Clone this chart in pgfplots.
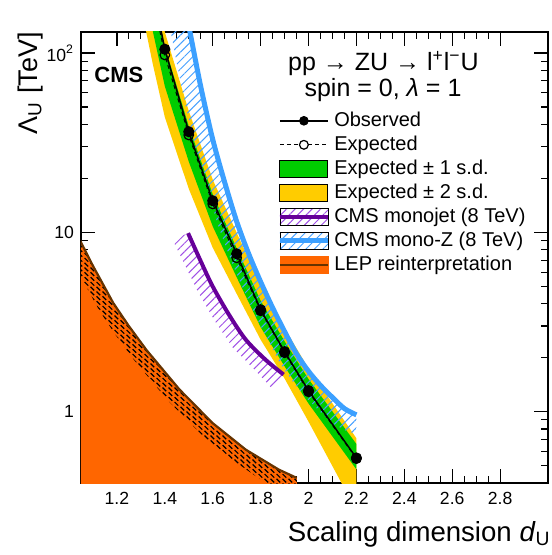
\documentclass[border=0pt]{standalone}
\usepackage{fontspec}
\setmainfont{Liberation Sans}
\usepackage{pgfplots}
\pgfplotsset{compat=1.18}
\usetikzlibrary{patterns,patterns.meta}
\definecolor{cmsgreen}{RGB}{0,204,0}
\definecolor{cmsyellow}{RGB}{255,204,0}
\definecolor{monoz}{RGB}{60,160,255}
\definecolor{monozhatch}{RGB}{70,160,255}
\definecolor{monojet}{RGB}{102,0,153}
\definecolor{monojethatch}{RGB}{160,80,230}
\definecolor{lep}{RGB}{255,102,0}
\definecolor{lepedge}{RGB}{102,51,0}
\pgfdeclarepatternformonly{lepdash}{\pgfqpoint{-0.1pt}{-0.1pt}}{\pgfqpoint{3.1pt}{2.5pt}}{\pgfqpoint{3pt}{2.4pt}}{
  \pgfsetlinewidth{0.6pt}
  \pgfpathmoveto{\pgfqpoint{0.3pt}{2.1pt}}
  \pgfpathlineto{\pgfqpoint{2.1pt}{0.3pt}}
  \pgfusepath{stroke}}
\begin{document}
\begin{tikzpicture}
\useasboundingbox (-40.5pt,-36pt) rectangle (235pt,241.5pt);
\begin{axis}[
  scale only axis, width=233.5pt, height=225.5pt,
  xmin=1.05, xmax=3.0, ymode=log, ymin=0.4, ymax=131,
  xtick={1.2,1.4,1.6,1.8,2.0,2.2,2.4,2.6,2.8},
  xticklabels={1.2,1.4,1.6,1.8,2,2.2,2.4,2.6,2.8},
  minor x tick num=3,
  ytick={1,10,100}, yticklabels={1,10,10\textsuperscript{2}},
  minor ytick={0.4,0.5,0.6,0.7,0.8,0.9,2,3,4,5,6,7,8,9,20,30,40,50,60,70,80,90},
  tick align=inside, major tick length=7pt, minor tick length=3.5pt,
  tick style={black, line width=0.6pt},
  axis line style={line width=0.8pt},
  /pgf/number format/assume math mode=true,
  ticklabel style={font=\fontsize{8.8}{10}\selectfont},
  xticklabel style={yshift=-1pt},
  xlabel={Scaling dimension \textit{d}\textsubscript{U}},
  xlabel style={at={(axis description cs:1.0064,-0.1286)}, anchor=base east, inner sep=0pt, font=\fontsize{13.8}{15}\selectfont},
  ylabel={Λ\textsubscript{U} [TeV]},
  ylabel style={at={(axis description cs:-0.094,1)}, anchor=base east, inner sep=0pt, font=\fontsize{13.5}{15}\selectfont},
  legend cell align=left,
  legend style={at={(rel axis cs:0.4197,0.8306)}, anchor=north west, draw=none, fill=none,
    inner sep=0pt, font=\fontsize{10}{12}\selectfont, row sep=0pt,
    nodes={inner sep=0.5pt, text height=8.4pt, text depth=2.6pt}},
]
% LEP region
\addplot[draw=none, fill=lep, forget plot] coordinates {
 (1.0,12) (1.05,8.8) (1.1,6.5) (1.185,4.03) (1.25,3.0) (1.323,2.21) (1.461,1.33) (1.599,0.865) (1.738,0.614) (1.876,0.475) (1.951,0.427) (1.951,0.3) (1.0,0.3)};
\addplot[draw=none, pattern=lepdash, pattern color=black, forget plot] coordinates {
 (1.0,12) (1.05,8.8) (1.1,6.5) (1.185,4.03) (1.25,3.0) (1.323,2.21) (1.461,1.33) (1.599,0.865) (1.738,0.614) (1.876,0.475) (1.951,0.427) (1.951,0.38)
 (1.8441,0.38) (1.6999,0.519) (1.5548,0.743) (1.4122,1.157) (1.2713,1.944) (1.1959,2.66) (1.1283,3.63) (1.0417,5.90) (0.9911,8.0)};
\addplot[lepedge, line width=1.1pt, forget plot] coordinates {
 (1.0,12) (1.05,8.8) (1.1,6.5) (1.185,4.03) (1.25,3.0) (1.323,2.21) (1.461,1.33) (1.599,0.865) (1.738,0.614) (1.876,0.475) (1.951,0.427)};
% yellow band
\addplot[draw=none, fill=cmsyellow, forget plot] coordinates {
 (1.3,594) (1.35,272) (1.4,131) (1.5,47.5) (1.6,19.7) (1.7,9.95) (1.8,5.04) (1.9,2.92) (2.0,1.74) (2.2,0.71)
 (2.2,0.28) (2.0,0.88) (1.9,1.53) (1.8,2.52) (1.7,4.54) (1.6,8.21) (1.5,17.5) (1.4,43.9) (1.35,86.5) (1.3,183)};
% green band
\addplot[draw=none, fill=cmsgreen, forget plot] coordinates {
 (1.3,512) (1.35,231) (1.4,109) (1.5,39.1) (1.6,16.3) (1.7,8.15) (1.8,4.16) (1.9,2.47) (2.0,1.52) (2.2,0.66)
 (2.2,0.476) (2.0,1.11) (1.9,1.79) (1.8,2.96) (1.7,5.62) (1.6,10.8) (1.5,24.8) (1.4,65.3) (1.35,132) (1.3,283)};
% monojet
\addplot[draw=none, pattern={Lines[angle=45,distance=3pt,line width=0.5pt]}, pattern color=monojethatch, forget plot] coordinates {
 (1.497,9.9) (1.55,6.9) (1.6,4.99) (1.668,3.47) (1.738,2.52) (1.82,1.95) (1.896,1.61)
 (1.8516,1.33) (1.7724,1.727) (1.6833,2.28) (1.6083,3.21) (1.5378,4.68) (1.485,6.54) (1.4328,9.06)};
\addplot[monojet, line width=2pt, smooth, forget plot] coordinates {
 (1.497,9.9) (1.55,6.9) (1.6,4.99) (1.668,3.47) (1.738,2.52) (1.82,1.95) (1.896,1.61)};
% mono-Z
\addplot[draw=none, pattern={Lines[angle=45,distance=3pt,line width=0.5pt]}, pattern color=monozhatch, forget plot] coordinates {
 (1.48,190) (1.505,131) (1.55,65) (1.6,33) (1.65,19) (1.7,11.5) (1.75,7.6) (1.8,5.3) (1.85,3.8) (1.9,2.8) (1.95,2.1) (2.0,1.68) (2.05,1.40) (2.1,1.2) (2.15,1.04) (2.2,0.96)
 (2.2,0.754) (2.1635,0.774) (2.104,0.854) (2.0456,1.006) (1.9921,1.186) (1.9374,1.448) (1.8823,1.849) (1.8303,2.50) (1.7791,3.42) (1.7281,4.80) (1.6771,6.94) (1.6253,10.63) (1.5747,17.74) (1.5237,31.1) (1.4727,61.7) (1.428,124.9) (1.4027,180.9)};
\addplot[monoz, line width=2.5pt, smooth, forget plot] coordinates {
 (1.48,190) (1.505,131) (1.55,65) (1.6,33) (1.65,19) (1.7,11.5) (1.75,7.6) (1.8,5.3) (1.85,3.8) (1.9,2.8) (1.95,2.1) (2.0,1.68) (2.05,1.40) (2.1,1.2) (2.15,1.04) (2.2,0.96)};
% expected
\addplot[black, line width=0.5pt, dash pattern=on 2pt off 1.5pt, mark=o, mark size=2.4pt, mark options={solid, line width=0.6pt}, forget plot] coordinates {
 (1.35,206) (1.4,97.5) (1.5,34.9) (1.6,14.4) (1.7,7.21) (1.8,3.65) (1.9,2.13) (2.0,1.29) (2.2,0.547)};
% observed
\addplot[black, line width=0.75pt, mark=*, mark size=2.4pt, forget plot] coordinates {
 (1.35,224) (1.4,105) (1.5,36.4) (1.6,15.0) (1.7,7.59) (1.8,3.70) (1.9,2.16) (2.0,1.31) (2.2,0.552)};
% legend
\addlegendimage{legend image code/.code={
  \draw[black, line width=0.75pt] (0pt,0pt) -- (24pt,0pt);
  \fill[black] (12pt,0pt) circle (2.2pt);
  \path (26.5pt,0pt);}}
\addlegendentry{Observed}
\addlegendimage{legend image code/.code={
  \draw[black, line width=0.5pt, dash pattern=on 2pt off 1.5pt] (0pt,0pt) -- (9.8pt,0pt) (14.2pt,0pt) -- (24pt,0pt);
  \draw[black, line width=0.6pt] (12pt,0pt) circle (2.2pt);
  \path (26.5pt,0pt);}}
\addlegendentry{Expected}
\addlegendimage{legend image code/.code={
  \draw[fill=cmsgreen, draw=black, line width=0.5pt] (0pt,-4.2pt) rectangle (24pt,4.2pt);
  \path (26.5pt,0pt);}}
\addlegendentry{Expected ± 1 s.d.}
\addlegendimage{legend image code/.code={
  \draw[fill=cmsyellow, draw=black, line width=0.5pt] (0pt,-4.2pt) rectangle (24pt,4.2pt);
  \path (26.5pt,0pt);}}
\addlegendentry{Expected ± 2 s.d.}
\addlegendimage{legend image code/.code={
  \fill[pattern={Lines[angle=45,distance=3pt,line width=0.5pt]}, pattern color=monojethatch] (0pt,-4.2pt) rectangle (24pt,4.2pt);
  \draw[monojet, line width=2pt] (0pt,0pt) -- (24pt,0pt);
  \path (26.5pt,0pt);}}
\addlegendentry{CMS monojet (8 TeV)}
\addlegendimage{legend image code/.code={
  \fill[pattern={Lines[angle=45,distance=3pt,line width=0.5pt]}, pattern color=monozhatch] (0pt,-4.2pt) rectangle (24pt,4.2pt);
  \draw[monoz, line width=2.5pt] (0pt,0pt) -- (24pt,0pt);
  \path (26.5pt,0pt);}}
\addlegendentry{CMS mono-Z (8 TeV)}
\addlegendimage{legend image code/.code={
  \fill[lep] (0pt,-4.2pt) rectangle (24pt,4.2pt);
  \draw[lepedge, line width=1.1pt] (0pt,0pt) -- (24pt,0pt);
  \path (26.5pt,0pt);}}
\addlegendentry{LEP reinterpretation}
% texts
\node[anchor=base east, inner sep=0pt, font=\fontsize{10.5}{12}\selectfont] at (axis description cs:1.0,1.0155) {2.3 fb\textsuperscript{−1} (13 TeV)};
\node[anchor=base west, inner sep=0pt, font=\fontsize{11}{13}\selectfont\bfseries] at (axis description cs:0.0278,0.887) {CMS};
\node[anchor=base, inner sep=0pt, font=\fontsize{12.5}{14}\selectfont] at (axis description cs:0.6477,0.9157) {pp → ZU → l\textsuperscript{+}l\textsuperscript{−}U};
\node[anchor=base, inner sep=0pt, font=\fontsize{12.5}{14}\selectfont] at (axis description cs:0.6467,0.8565) {spin = 0, \textit{λ} = 1};
\end{axis}
\end{tikzpicture}
\end{document}
